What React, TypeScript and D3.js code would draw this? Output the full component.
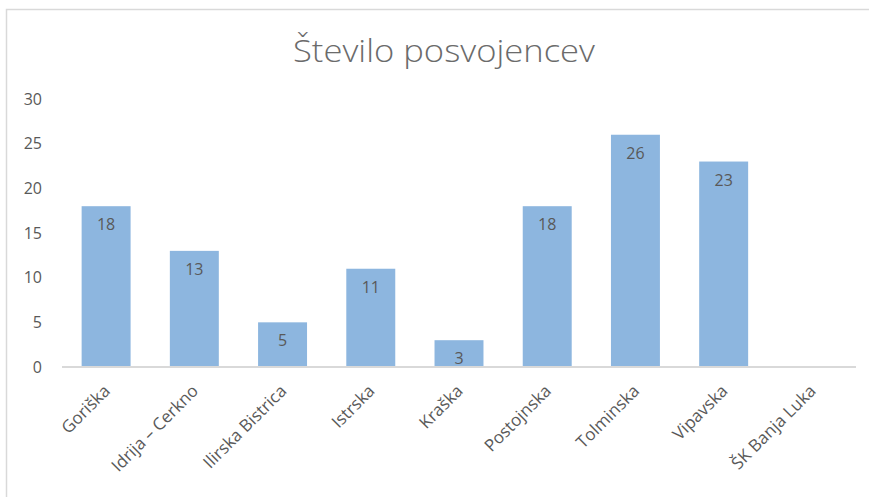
import React from "react";
import * as d3 from "d3";

const categories = ["Goriška", "Idrija – Cerkno", "Ilirska Bistrica", "Istrska", "Kraška", "Postojnska", "Tolminska", "Vipavska", "ŠK Banja Luka"];
const values: (number | null)[] = [18, 13, 5, 11, 3, 18, 26, 23, null];
const yTicks = [0, 5, 10, 15, 20, 25, 30];
const title = "Število posvojencev";

const W = 869, H = 497;
const plot = { left: 62, right: 856, top: 99, bottom: 367 };
const font = "'Open Sans', 'Liberation Sans', sans-serif";

export default function App() {
  const x = d3.scaleBand<string>().domain(categories).range([plot.left, plot.right]).paddingInner(0.445).paddingOuter(0.2225);
  const y = d3.scaleLinear().domain([0, 30]).range([plot.bottom, plot.top]);
  return (
    <svg width={W} height={H} style={{ position: "absolute", left: 0, top: 0 }}>
      <rect x={0} y={0} width={W} height={H} fill="#fff" />
      <rect x={6.5} y={9.5} width={W} height={H} fill="#fff" stroke="#d9d9d9" strokeWidth={1.5} />
      <text x={444} y={62} textAnchor="middle" fontFamily={font} fontWeight={300} fontSize={32} textLength={302} lengthAdjust="spacingAndGlyphs" fill="#6b6b6b">{title}</text>
      {yTicks.map(t => (
        <text key={t} x={42} y={y(t)} dy="0.35em" textAnchor="end" fontFamily={font} fontSize={16} fill="#595959">{t}</text>
      ))}
      {categories.map((c, i) => {
        const v = values[i];
        if (v == null) return null;
        const bx = x(c)!;
        return (
          <g key={c}>
            <rect x={bx} y={y(v)} width={x.bandwidth()} height={y(0) - y(v)} fill="#8db6df" />
            <text x={bx + x.bandwidth() / 2} y={y(v) + 24} textAnchor="middle" fontFamily={font} fontSize={16} fill="#595959">{v}</text>
          </g>
        );
      })}
      <line x1={plot.left} x2={plot.right} y1={plot.bottom} y2={plot.bottom} stroke="#d9d9d9" strokeWidth={2} />
      {categories.map(c => {
        const cx = x(c)! + x.bandwidth() / 2 + 5;
        const cy = plot.bottom + 25;
        return (
          <text key={c} transform={`translate(${cx},${cy}) rotate(-45)`} textAnchor="end" fontFamily={font} fontSize={17} fill="#595959">{c}</text>
        );
      })}
    </svg>
  );
}
